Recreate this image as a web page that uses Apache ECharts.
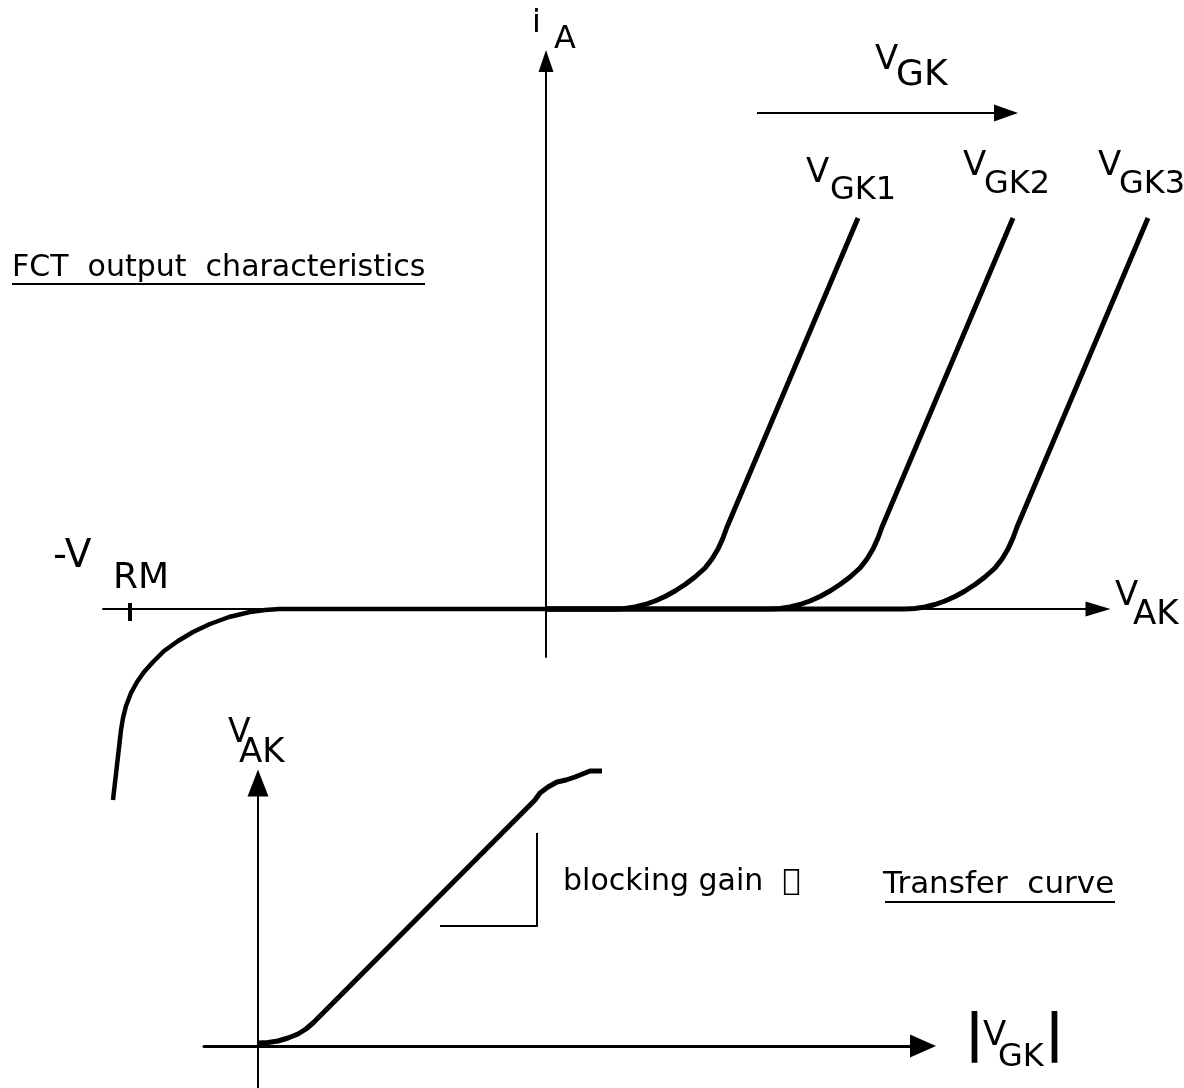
<!DOCTYPE html>
<html>
<head>
<meta charset="utf-8">
<script src="https://cdn.jsdelivr.net/npm/echarts@6/dist/echarts.min.js"></script>
<style>
  html, body { margin: 0; padding: 0; background: #ffffff; }
  #chart { width: 1184px; height: 1088px; }
</style>
</head>
<body>
<div id="chart"></div>
<script>
// ---- FCT output characteristics: anode current i_A versus anode voltage V_AK ----
// reverse blocking branch, bending down near -V_RM
const reverseBranch = [
  [-4.33, -1.91], [-4.25, -1.21], [-4.23, -1.09], [-4.20, -0.97], [-4.15, -0.84],
  [-4.09, -0.73], [-4.02, -0.63], [-3.93, -0.53], [-3.82, -0.42], [-3.68, -0.32],
  [-3.53, -0.23], [-3.36, -0.15], [-3.17, -0.08], [-2.96, -0.03], [-2.81, -0.01],
  [-2.67, 0], [0, 0]
];
// forward characteristics for three gate voltages
const curveVGK1 = [
  [0, 0], [0.69, 0], [0.79, 0.005], [0.89, 0.02], [0.99, 0.045], [1.09, 0.08],
  [1.19, 0.125], [1.29, 0.18], [1.39, 0.245], [1.49, 0.32], [1.59, 0.41],
  [1.66, 0.50], [1.72, 0.60], [1.77, 0.71], [1.81, 0.82], [3.12, 3.91]
];
const curveVGK2 = [
  [0, 0], [2.24, 0], [2.34, 0.005], [2.44, 0.02], [2.54, 0.045], [2.64, 0.08],
  [2.74, 0.125], [2.84, 0.18], [2.94, 0.245], [3.04, 0.32], [3.14, 0.41],
  [3.21, 0.50], [3.27, 0.60], [3.32, 0.71], [3.36, 0.82], [4.67, 3.91]
];
const curveVGK3 = [
  [0, 0], [3.59, 0], [3.69, 0.005], [3.79, 0.02], [3.89, 0.045], [3.99, 0.08],
  [4.09, 0.125], [4.19, 0.18], [4.29, 0.245], [4.39, 0.32], [4.49, 0.41],
  [4.56, 0.50], [4.62, 0.60], [4.67, 0.71], [4.71, 0.82], [6.02, 3.91]
];
const vrmPosition = -4.16;
const vrmTick = [[vrmPosition, 0.06], [vrmPosition, -0.12]];
// direction of increasing V_GK
const gateSweep = [[2.11, 4.96], [4.60, 4.96]];

// ---- Transfer curve: V_AK versus |V_GK| ----
const transferCurve = [
  [0, 0.03], [0.10, 0.035], [0.20, 0.05], [0.30, 0.08], [0.40, 0.12], [0.48, 0.17],
  [0.55, 0.23], [0.63, 0.31], [2.77, 2.46], [2.82, 2.53], [2.90, 2.59], [2.99, 2.64],
  [3.08, 2.66], [3.17, 2.69], [3.32, 2.75], [3.44, 2.75]
];
const gainStep = [[1.82, 1.20], [2.79, 1.20], [2.79, 2.13]];

const chart = echarts.init(document.getElementById('chart'));
const FONT = '"DejaVu Sans", sans-serif';
const INK = '#000000';

function text(str, x, y, size, weight) {
  return {
    type: 'text', x: x, y: y, silent: true,
    style: { text: str, font: (weight ? weight + ' ' : '') + size + 'px ' + FONT, fill: INK,
             align: 'left', verticalAlign: 'middle' }
  };
}
function bar(x, y, size) {
  const t = text('|', x, y, size, 'bold');
  t.style.align = 'center';
  return t;
}
function rule(x1, y1, x2, y2, w) {
  return { type: 'line', silent: true, shape: { x1: x1, y1: y1, x2: x2, y2: y2 },
           style: { stroke: INK, lineWidth: w } };
}

const hidden = { axisTick: { show: false }, axisLabel: { show: false }, splitLine: { show: false } };
function axisPair(gridIndex, xr, yr, xw, yw, xArrow, yArrow) {
  return {
    x: Object.assign({
      type: 'value', gridIndex: gridIndex, min: xr[0], max: xr[1],
      axisLine: { show: true, onZero: true, symbol: ['none', 'triangle'], symbolSize: xArrow,
                  lineStyle: { color: INK, width: xw } }
    }, hidden),
    y: Object.assign({
      type: 'value', gridIndex: gridIndex, min: yr[0], max: yr[1],
      axisLine: { show: true, onZero: true, symbol: ['none', 'triangle'], symbolSize: yArrow,
                  lineStyle: { color: INK, width: yw } }
    }, hidden)
  };
}
// drawn axes of both diagrams
const outputAxes = axisPair(0, [-4.43, 5.52], [-0.48, 5.48], 2, 2, [15, 25], [15, 22]);
const transferAxes = axisPair(1, [-0.54, 6.65], [-0.42, 2.63], 3, 2, [23, 26], [21, 27]);
// same scale as the output diagram (100 px per unit), extended to the right
// so the steep curves can run past the axis arrow
const curveX = Object.assign({ type: 'value', gridIndex: 2, min: -4.43, max: 6.14, axisLine: { show: false } }, hidden);
const curveY = Object.assign({ type: 'value', gridIndex: 2, min: -0.48, max: 5.48, axisLine: { show: false } }, hidden);

function curve(data, ai, width) {
  return {
    type: 'line', xAxisIndex: ai, yAxisIndex: ai, data: data, clip: false,
    symbol: 'none', silent: true, smooth: false,
    lineStyle: { color: INK, width: width, cap: 'butt', join: 'round' }
  };
}

chart.setOption({
  animation: false,
  backgroundColor: '#ffffff',
  grid: [
    { left: 103, right: 86, top: 61, bottom: 431 },
    { left: 204, right: 261, top: 783, bottom: 0 },
    { left: 103, right: 24, top: 61, bottom: 431 }
  ],
  xAxis: [outputAxes.x, transferAxes.x, curveX],
  yAxis: [outputAxes.y, transferAxes.y, curveY],
  series: [
    curve(reverseBranch, 2, 4.5),
    curve(curveVGK1, 2, 5),
    curve(curveVGK2, 2, 5),
    curve(curveVGK3, 2, 5),
    curve(vrmTick, 2, 4),
    {
      type: 'line', xAxisIndex: 2, yAxisIndex: 2, data: [], silent: true,
      markLine: {
        silent: true, symbol: ['none', 'triangle'], symbolSize: [17, 24],
        label: { show: false },
        lineStyle: { color: INK, width: 2, type: 'solid' },
        data: [[{ coord: gateSweep[0] }, { coord: gateSweep[1] }]]
      }
    },
    curve(transferCurve, 1, 5),
    curve(gainStep, 1, 2)
  ],
  graphic: [
    // axis names and curve labels
    text('i', 532, 24, 32),
    text('A', 554, 40, 32),
    text('V', 875, 60, 34),
    text('GK', 896, 76, 36),
    text('V', 806, 173, 34),
    text('GK1', 830, 191, 32),
    text('V', 963, 166, 34),
    text('GK2', 984, 185, 32),
    text('V', 1098, 166, 34),
    text('GK3', 1119, 185, 32),
    text('V', 1115, 596, 34),
    text('AK', 1133, 615, 34),
    text('-V', 53, 557, 39),
    text('RM', 113, 579, 36),
    text('V', 228, 733, 33),
    text('AK', 239, 753, 34),
    bar(974.5, 1036, 52),
    text('V', 983, 1036, 34),
    text('GK', 998, 1058, 32),
    bar(1054.5, 1036, 52),
    // titles
    text('FCT  output  characteristics', 12, 268, 30),
    rule(12, 284, 425, 284, 2),
    text('blocking gain  \uF062', 563, 882, 30),
    text('Transfer  curve', 883, 885, 31),
    rule(885, 902, 1115, 902, 2)
  ]
});
</script>
</body>
</html>
